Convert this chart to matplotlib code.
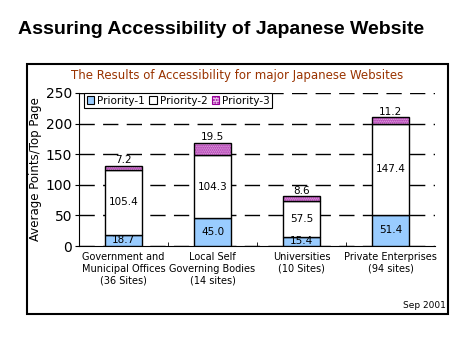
import matplotlib.pyplot as plt
from matplotlib.patches import Rectangle, Patch
import numpy as np

categories = ["Government and\nMunicipal Offices\n(36 Sites)",
              "Local Self\nGoverning Bodies\n(14 sites)",
              "Universities\n(10 Sites)",
              "Private Enterprises\n(94 sites)"]
priority1 = [18.7, 45.0, 15.4, 51.4]
priority2 = [105.4, 104.3, 57.5, 147.4]
priority3 = [7.2, 19.5, 8.6, 11.2]

blue = "#99ccff"
purple = "#990099"
pink = "#eec8ee"

fig = plt.figure(figsize=(4.75, 3.54), dpi=100)
fig.text(18 / 475, 1 - 30 / 354, "Assuring Accessibility of Japanese Website",
         family="Liberation Sans", weight="bold", fontsize=14, va="center", ha="left")

# outer frame
fig.patches.append(Rectangle((27 / 475, 1 - 314 / 354), 421 / 475, 250 / 354,
                             transform=fig.transFigure, fill=False, lw=1.5,
                             edgecolor="black"))
fig.text(237 / 475, 1 - 75 / 354, "The Results of Accessibility for major Japanese Websites",
         color="#993300", fontsize=8.5, ha="center", va="center")
fig.text(446 / 475, 1 - 305 / 354, "Sep 2001", fontsize=6.5, ha="right", va="center")

ax = fig.add_axes([79 / 475, 1 - 246 / 354, 356 / 475, 153 / 354])
x = np.arange(len(categories))
w = 0.41

b2 = np.array(priority1)
b3 = b2 + np.array(priority2)

ax.bar(x, priority1, w, color=blue, edgecolor="black", lw=1, zorder=3)
ax.bar(x, priority2, w, bottom=b2, color="white", edgecolor="black", lw=1, zorder=3)
ax.bar(x, priority3, w, bottom=b3, color=pink, edgecolor=purple, lw=0,
       hatch="........", zorder=3)
ax.bar(x, priority3, w, bottom=b3, fill=False, edgecolor="black", lw=1, zorder=4)

for i in range(len(x)):
    ax.text(x[i], priority1[i] / 2, f"{priority1[i]:.1f}", ha="center", va="center",
            fontsize=7.5, zorder=5)
    ax.text(x[i], b2[i] + priority2[i] / 2, f"{priority2[i]:.1f}", ha="center",
            va="center", fontsize=7.5, zorder=5)
    ax.text(x[i], b3[i] + priority3[i] + 1, f"{priority3[i]:.1f}", ha="center",
            va="bottom", fontsize=7.5, zorder=5)

ax.set_xlim(-0.5, 3.5)
ax.set_ylim(0, 250)
ax.set_yticks(range(0, 251, 50))
ax.set_xticks(x)
ax.set_xticklabels(categories, fontsize=7, linespacing=1.25)
ax.set_xticks([0.5, 1.5, 2.5], minor=True)
ax.tick_params(axis="x", which="major", length=0, pad=4)
ax.tick_params(axis="x", which="minor", length=3, direction="in")
ax.tick_params(axis="y", labelsize=10, length=3, pad=2)
ax.yaxis.grid(True, color="black", ls=(0, (11, 6)), lw=1)
ax.set_axisbelow(True)
for s in ["top", "right"]:
    ax.spines[s].set_visible(False)
ax.set_ylabel("Average Points/Top Page", fontsize=8.5, labelpad=3)

handles = [Patch(facecolor=blue, edgecolor="black", lw=0.8),
           Patch(facecolor="white", edgecolor="black", lw=0.8),
           Patch(facecolor=pink, edgecolor=purple, hatch="......", lw=0.8)]
leg = ax.legend(handles, ["Priority-1", "Priority-2", "Priority-3"], ncol=3,
                loc="upper left", bbox_to_anchor=(0.015, 1.0), fontsize=7.5,
                handlelength=0.7, handleheight=0.7, handletextpad=0.3,
                columnspacing=0.4, borderpad=0.25, borderaxespad=0,
                fancybox=False, framealpha=1, edgecolor="black")
leg.get_frame().set_linewidth(0.8)

fig.savefig("out.png", dpi=100)
